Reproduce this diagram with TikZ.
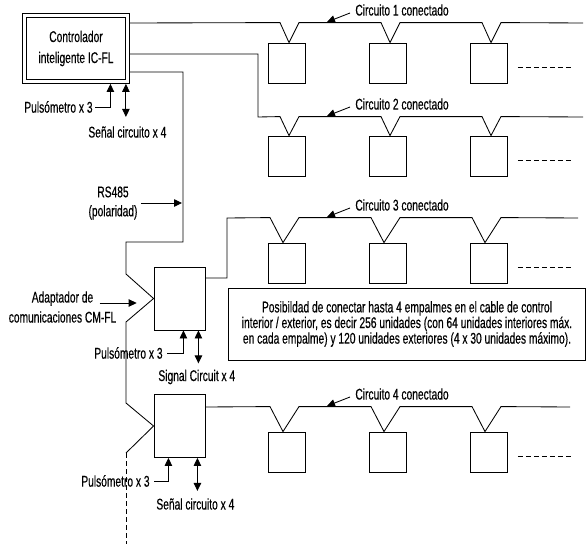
\documentclass[tikz,border=0pt]{standalone}
\usepackage{fontspec}
\setmainfont[FakeStretch=0.66,FakeBold=0.4]{Liberation Sans}
\usetikzlibrary{arrows.meta,calc,positioning}

\tikzset{
  >={Triangle[length=8pt,width=7.5pt]},
  unit/.style={draw,minimum width=37pt,minimum height=40pt,inner sep=0pt},
  adapter/.style={draw,minimum width=51pt,minimum height=63pt,inner sep=0pt},
  lbl/.style={inner sep=0pt,font=\fontsize{15.5}{20}\selectfont},
  dots/.style={dash pattern=on 5pt off 3pt},
}

\begin{document}
\begin{tikzpicture}[x=1pt,y=-1pt,line width=0.85pt]
  \useasboundingbox (0,0) rectangle (587,544);

  % controller and the two adapters
  \node[draw,double,double distance=3pt,outer sep=2.4pt,minimum width=103pt,minimum height=66pt,
        align=center,font=\fontsize{15.5}{21}\selectfont] (ctl) at (76,48.5) {Controlador\\inteligente IC-FL};
  \node[adapter] (ad1) at (179.5,298.5) {};
  \node[adapter] (ad2) at (179.5,426) {};

  % indoor units, 3 per circuit
  \foreach \r/\y in {1/63,2/156,3/263,4/452}
    \foreach \x [count=\i] in {287,388,489}
      \node[unit] (u\r\i) at (\x,\y) {};

  % RS485 bus
  \coordinate (b1) at (183,72);
  \coordinate (b2) at (183,242);
  \draw (ctl.east |- b1) -- (b1) -- (b2) -- (126,242) -- (126,274) -- (ad1.west) -- (126,322)
        -- (126,403) -- (ad2.west) -- (126,453);
  \draw[dots] (126,453) -- (126,544);

  % circuit lines
  \draw (ctl.east |- 0,23) \foreach \i in {1,2,3} {
      -- ($(u1\i.north)+(-7,-20)$) -- ([xshift=2pt]u1\i.north) -- ($(u1\i.north)+(12,-20)$)} -- (583,23);
  \draw (ctl.east |- 0,54) -- (258,54) -- (258,117) \foreach \i in {1,2,3} {
      -- ($(u2\i.north)+(-7,-19)$) -- ([xshift=2pt]u2\i.north) -- ($(u2\i.north)+(12,-19)$)} -- (583,117);
  \draw (ad1.east |- 0,278) -- (227,278) -- (227,218) \foreach \i in {1,2,3} {
      -- ($(u3\i.north)+(-17,-25)$) -- ([xshift=-4pt]u3\i.north) -- ($(u3\i.north)+(12,-25)$)} -- (578,218);
  \draw (ad2.east |- 0,407) \foreach \i in {1,2,3} {
      -- ($(u4\i.north)+(-17,-25)$) -- ([xshift=-4pt]u4\i.north) -- ($(u4\i.north)+(12,-25)$)} -- (570,407);

  \foreach \r in {1,...,4}
    \draw[dots,line width=0.7pt] ([xshift=10pt,yshift=-4pt]u\r3.east) -- ++(53,0);

  \foreach \r/\wy in {1/23,2/117,3/218,4/407} {
    \node[lbl,anchor=west] (c\r) at (355,\wy-13) {Circuito \r\ conectado};
    \draw[->] ($(c\r.west)+(-5,3)$) -- ($(c\r.west)+(-28,12)$);
  }

  % pulse meters and signal lines
  \node[lbl,anchor=east] (pulse1) at (93,107) {Pulsómetro x 3};
  \draw[->] ([xshift=2pt]pulse1.east) -| ([xshift=-19.5pt]ctl.south east);
  \draw[<->] ([xshift=-4pt]ctl.south east) -- ++(0,33);
  \node[lbl,anchor=west] (sig1) at (88,132) {Señal circuito x 4};

  \node[lbl,anchor=east] (pulse2) at (163,353) {Pulsómetro x 3};
  \draw[->] ([xshift=4pt]pulse2.east) -| ([xshift=-22pt]ad1.south east);
  \draw[<->] ([xshift=-7pt]ad1.south east) -- ++(0,33);
  \node[lbl,anchor=west] (sig2) at (158,377) {Signal Circuit x 4};

  \node[lbl,anchor=east] (pulse3) at (150,481) {Pulsómetro x 3};
  \draw[->] ([xshift=4pt]pulse3.east) -| ([xshift=-37pt]ad2.south east);
  \draw[<->] ([xshift=-8pt]ad2.south east) -- ++(0,33);
  \node[lbl,anchor=west] (sig3) at (156,504) {Señal circuito x 4};

  \node[lbl,align=center,font=\fontsize{15.5}{19}\selectfont] (rs) at (113,203) {RS485\\(polaridad)};
  \draw[->] ([xshift=3pt]rs.east) -- ([xshift=-1pt]rs.east -| b1);

  \node[lbl,align=center] (cm) at (62.5,307) {Adaptador de\\comunicaciones CM-FL};
  \draw[->] ($(cm.east)+(-17,-4)$) -- ++(37,0);

  \node[draw,minimum width=357pt,minimum height=72pt,align=center,font=\fontsize{15.5}{14.5}\selectfont]
    (note) at (407,324) {Posibildad de conectar hasta 4 empalmes en el cable de control\\
      interior / exterior, es decir 256 unidades (con 64 unidades interiores máx.\\
      en cada empalme) y 120 unidades exteriores (4 x 30 unidades máximo).};
\end{tikzpicture}
\end{document}
